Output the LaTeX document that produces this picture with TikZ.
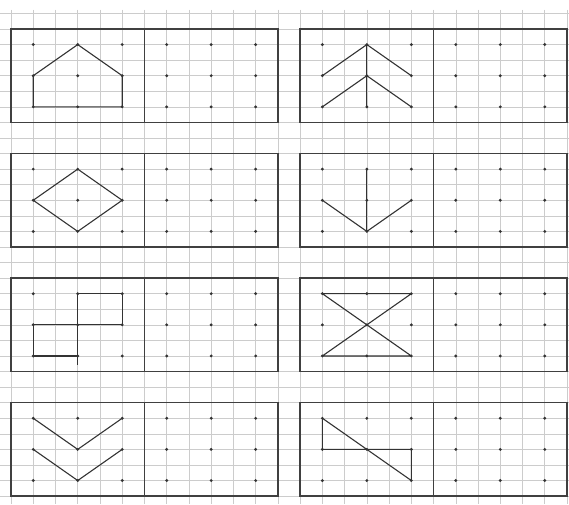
\documentclass[tikz,border=0pt]{standalone}

\begin{document}
\begin{tikzpicture}[
    x=22.24pt, y=-15.57pt,
    gridline/.style={draw=black!20, line width=0.6pt},
    frame/.style={draw=black!75, line width=1.5pt},
    dot/.style={circle, fill=black!80, inner sep=0pt, minimum size=3.2pt},
    figure/.style={draw=black!80, line width=1.1pt, line join=round}
]
\useasboundingbox (-0.495,-1.863) rectangle (25.09,30.51);

% Squared paper
\foreach \gx in {0,...,25} \draw[gridline] (\gx,-1.25) -- (\gx,30.51);
\foreach \gy in {-1,...,30} \draw[gridline] (-0.495,\gy) -- (25.09,\gy);

% Panels with dots
\foreach \row in {0,...,3} {
  \foreach \side in {0,1} {
    \begin{scope}[shift={(13*\side,8*\row)}]
      \draw[frame] (0,0) rectangle (12,6);
      \draw[frame] (6,0) -- (6,6);
      \foreach \dx in {1,3,5,7,9,11}
        \foreach \dy in {1,3,5}
          \node[dot] (d\row\side-\dx\dy) at (\dx,\dy) {};
    \end{scope}
  }
}

% Row 1
\draw[figure] (d00-13.center) -- (d00-15.center) -- (d00-55.center) -- (d00-53.center) -- (d00-31.center) -- cycle;
\draw[figure] (d01-31.center) -- (d01-35.center);
\draw[figure] (d01-13.center) -- (d01-31.center) -- (d01-53.center);
\draw[figure] (d01-15.center) -- (d01-33.center) -- (d01-55.center);

% Row 2
\draw[figure] (d10-31.center) -- (d10-53.center) -- (d10-35.center) -- (d10-13.center) -- cycle;
\draw[figure] (d11-31.center) -- (d11-35.center);
\draw[figure] (d11-13.center) -- (d11-35.center) -- (d11-53.center);

% Row 3
\draw[figure] (d20-31.center) -- (d20-51.center) -- (d20-53.center) -- (d20-13.center) -- (d20-15.center) -- (d20-35.center) -- cycle;
\draw[figure] (d20-35.center) -- ++(0,0.6);
\draw[figure] (d21-11.center) -- (d21-51.center) -- (d21-15.center) -- (d21-55.center) -- cycle;

% Row 4
\draw[figure] (d30-11.center) -- (d30-33.center) -- (d30-51.center);
\draw[figure] (d30-13.center) -- (d30-35.center) -- (d30-53.center);
\draw[figure] (d31-11.center) -- (d31-13.center) -- (d31-53.center) -- (d31-55.center) -- cycle;

\end{tikzpicture}
\end{document}
